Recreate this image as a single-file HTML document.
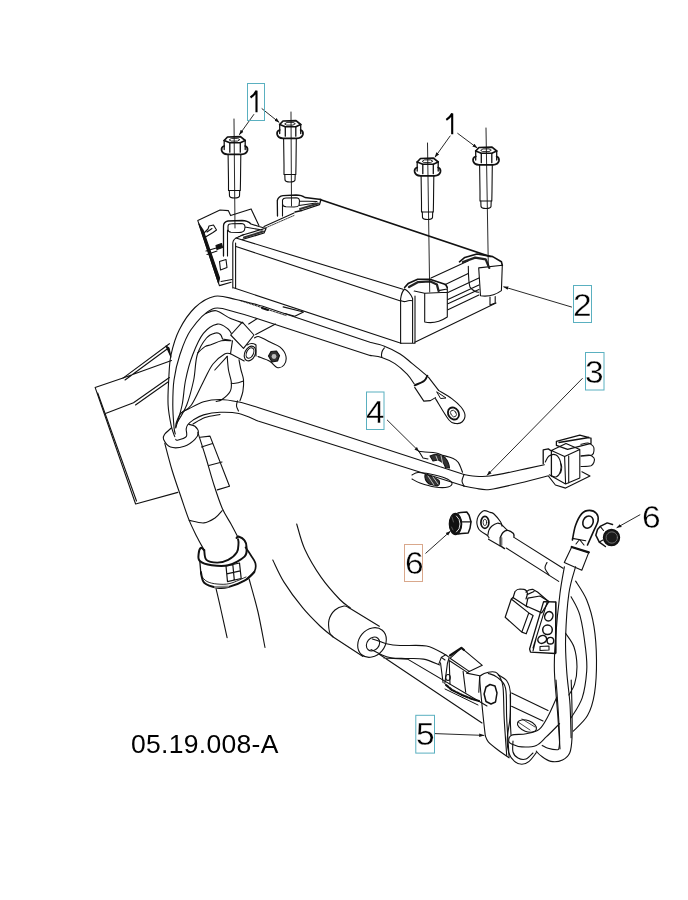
<!DOCTYPE html>
<html><head><meta charset="utf-8">
<style>
html,body{margin:0;padding:0;background:#fff;}
body{width:688px;height:900px;overflow:hidden;position:relative;}
svg{position:absolute;left:0;top:0;will-change:transform;}
text{font-family:"Liberation Sans",sans-serif;fill:#000;}
</style></head>
<body>
<svg width="688" height="900" viewBox="0 0 688 900">
<defs>
<g id="bolt">
  <path d="M-10.3,4 L-7,0.5 L6,0.2 L10.7,4" stroke-width="1.7"/>
  <path d="M-10.3,4 L-4.7,6.3 L5.8,6.3 L10.7,4" stroke-width="1.6"/>
  <path d="M-5,3.2 L-3,1.9 L3,1.9 L5.3,3.2 L3,4.6 L-3,4.6 Z" stroke-width="0.9"/>
  <path d="M-10.3,4 L-10.3,13 M-4.7,6.3 L-4.7,15.7 M5.8,6.3 L5.8,15.7 M10.7,4 L10.7,13" stroke-width="1.3"/>
  <path d="M-10.3,9.5 Q-13.5,10.5 -12.8,14 Q-12,17.5 -7,17.9 L7,17.9 Q12,17.5 12.9,14 Q13.5,10.5 10.7,9.5" stroke-width="1.8"/>
  <path d="M-6.4,18 L-6,44 L-6,54 M6.3,18 L6,44 L5.8,54 M-6,54 L5.8,54" stroke-width="1.1"/>
  <path d="M-5.2,54 L-5,59.5 Q-4.5,61.5 0,61.5 Q4.5,61.5 5,59.5 L5.2,54" stroke-width="1.1"/>
</g>
<marker id="arr" viewBox="0 0 10 10" refX="9" refY="5" markerWidth="5" markerHeight="5" orient="auto" markerUnits="userSpaceOnUse">
  <path d="M0,1.5 L10,5 L0,8.5 Z" fill="#111" stroke="none"/>
</marker>
</defs>
<g fill="none" stroke="#111" stroke-width="1.1" stroke-linejoin="round" stroke-linecap="round">

  <!-- bolts -->
  <use href="#bolt" x="234.5" y="136.5"/>
  <use href="#bolt" x="290" y="120.5"/>
  <use href="#bolt" x="427.5" y="158"/>
  <use href="#bolt" x="486" y="147"/>
  
  <!-- MODULE -->
  <path d="M238.9,236.7 L244,234.5 M264,226.5 L294,213"/>
  <path d="M263,229 L294,215.5" stroke-width="0.8" stroke-dasharray="1.5 1"/>
  <path d="M320,199.5 L490,256.5" stroke-width="1.7"/>
  <path d="M431,278 L468,261"/>
  <path d="M236,238 L403,289.3"/>
  <path d="M236,246.5 L400.6,301"/>
  <path d="M233.5,287.8 L401,343.3"/>
  <path d="M232.8,243 Q233,238.5 238.9,236.7 M232.8,243 L232.8,288 M235.6,243 L235.6,288"/>
  <path d="M400.6,343.3 L400.6,299 Q401.5,292 404.6,289 Q410,292 412.6,298.5 L412.6,342.5 M415,296 L415,342.3 M400.6,343.3 L415,343.3 M400.6,300.6 Q404,302.3 406.5,301.2 Q409,300.2 412.6,300.8"/>
  <path d="M414.8,342.3 L496,303"/>
  <path d="M404.6,287.5 L408.1,283.6 L417.7,279.2 L429.9,279.2 L445.6,284.5 L447.3,287.5" stroke-width="1.6"/>
  <path d="M414.2,291 L424.7,293.2 L447.3,292.3 M424.7,293.2 L424.7,322 Q436,324.5 447.3,317 L447.3,287.5 M438.6,290.6 L447,289" stroke-width="1.1"/>
  <path d="M409,287 L417.7,282.2 L429.9,281.3 L436.9,284.5 L438.6,291" stroke-width="2.3" stroke="#222"/>
  <path d="M444.8,284.8 L468.2,273.6 M447.9,292.5 L478.9,278 M447.9,299.6 L478.9,285 M447.9,303.7 L478.9,289.5 M447.9,309.8 L478.9,295"/>
  <path d="M459.5,261.8 L464.8,257.4 L477,254 L492.7,256.6 L501.4,261.8 L502.3,265.3" stroke-width="1.6"/>
  <path d="M478.7,267.9 L480.5,295.8 Q492,297.5 501.4,290.6 L502.3,265.3 M468.3,266.2 Q468.5,283 470,287.1 Q474,292 478.7,292.3 M478.7,267.9 L502.3,265.3 M490,297 L490,305 L495.2,303 L495.2,296.5" stroke-width="1.1"/>
  <path d="M463,262 L475.2,257.6 L485.7,259.4 L489.2,267.9" stroke-width="2.3" stroke="#222"/>
  
  <path d="M277.5,216 L277.3,200.5 C278,197.5 280,196 283,195.6 L296,195 C300,195 303,196 305,197.5 L321,199.5 L319.5,204.6 L302,210.5 L295,212" stroke-width="1.3"/>
  <path d="M282.5,200 C283,198.5 284,198 286,198 L296,197.8 C298.5,198 299.5,199.5 299.5,201 L299,205.5 C298,206.6 296,207 294,207 L286,206.8 C284,206.5 282.5,205.5 282.5,204 Z M282.5,204 L282.5,216 M299.5,201 L317,201.5 M299,205.5 L316,203" stroke-width="1.1"/>
  <path d="M300,209 L318,203.5" stroke-width="2" stroke="#333"/>
  <path d="M223.5,256 L223.5,226 C223.5,222.5 225.5,221.5 228,221 L242,220.5 C246,220.5 249,222 251,224 L259,226.5 L266,228.5 L264,233 L242.2,239.5" stroke-width="1.3"/>
  <path d="M228,226.5 C228,224.5 229.5,223.8 231.5,223.8 L241,223.5 C243.5,223.6 245,225 245,227 L244.5,230 C243.5,232 241,232.5 239,232.5 L231,232.3 C229,232 228,231 228,229.5 Z M227.5,230 L227.5,256 M245,227 L262,230 M241,235.5 L263,229" stroke-width="1.1"/>
  <path d="M244,237.5 L263,231.5" stroke-width="2" stroke="#333"/>
  <path d="M197.8,220.6 L220,210 L228.3,210.6 L230.6,215.6 L251.1,208.9 L258.9,225.6 M197.8,220.6 L219.4,285.6 L231.1,282.2 M221,281.5 L232,279.5"/>
  <path d="M199,224 L203,230 L219.5,278 L218.5,283 Z" fill="#111" stroke-width="1.2"/>
  <path d="M203,234 L208,229 L209,226 L213.5,225 L216.5,230 L213,232.5 L205.5,237 Z M207,232 L212,228.5 M219.5,261.5 L226,259.5 L227,267.5 L220.5,270 Z M206,251 L218,247.5 M207,254.5 L217,251"/>
  <path d="M216,245.5 L221.5,243.5 L222.5,247.5 L217,249.5 Z" fill="#111"/>
  <!-- centerlines -->
  <path d="M234,119 L235,228 M291,112 L291.5,206 M427.5,143 L429.7,292 M486,128 L488.3,265" stroke-width="0.9"/>
  <path d="M174.8,436.7 C174.2,434.9 172.4,431.5 171.3,426.2 C170.2,420.9 168.5,412.7 168.1,405 C167.7,397.3 168.2,388.3 168.7,380 C169.2,371.7 169.2,363.3 171,355 C172.8,346.7 175.2,337.9 179.2,330 C183.2,322.1 189.1,313.1 195,307.5 C200.9,301.9 208,297.5 214.8,296.2 C221.6,294.9 228.1,297.9 236,299.5 C243.9,301.1 257.7,304.9 262,306 M262,306 L370,342.3 M370,342.3 C372.4,342.9 379.4,344.2 384.4,346.2 C389.4,348.1 395.5,351.1 400.1,354 C404.8,356.9 407.8,360 412.3,363.6 C416.8,367.2 424.7,373.8 427.2,375.8"/>
  <path d="M175.3,434 C175.1,432.9 174.4,431.9 174,427.1 C173.6,422.3 172.8,412.9 172.8,405 C172.8,397.1 172.8,388.3 174,380 C175.2,371.7 177,363.3 179.8,355 C182.6,346.7 185.4,337.7 190.8,330 C196.2,322.3 205,311.9 212.4,308.9 C219.8,305.9 227.1,310.2 235,312 C242.9,313.8 255.8,318.2 260,319.5 M260,319.5 L370,355.4 M370,355.4 C372,355.8 377.7,356.1 381.8,357.5 C385.9,358.9 390.7,360.8 394.9,363.6 C399.1,366.4 403.9,370.8 407.1,374.1 C410.3,377.5 412.9,382.1 414.1,383.7"/>
  <path d="M384.4,347.9 Q380.5,352 381.8,357.5"/>
  <path d="M427.4,375.7 C426.8,376.6 426.1,379.4 424,381 C421.9,382.6 416.2,384.6 414.7,385.3" stroke-width="1.9"/>
  <path d="M428.4,377.2 L438.6,390.4 M414.7,387.4 L423.8,401.1 L430.4,400.6 L435.5,397.6"/>
  <path d="M438.6,390.4 C440.8,391.8 448.1,395.8 451.8,398.6 C455.5,401.4 458.8,404.3 461,407 C463.2,409.7 464.8,412.5 465,415 C465.2,417.5 463.5,420.6 462,422 C460.5,423.4 458.1,423.8 455.9,423.5 C453.7,423.2 452.4,424.1 449,420 C445.6,415.9 437.8,402.2 435.5,398.6"/>
  <path d="M437,392 L446,398 L441,398.5 Z" stroke-width="1"/>
  <ellipse cx="453.5" cy="413.5" rx="5.2" ry="6.3" transform="rotate(-35 453.5 413.5)" stroke-width="1.8"/>
  <ellipse cx="453.5" cy="413.5" rx="2.6" ry="3.6" transform="rotate(-35 453.5 413.5)" stroke-width="0.8"/>
  <path d="M171.3,428 C170.2,429.1 165.8,432.6 164.5,434.5 C163.2,436.4 162.5,437.2 163.5,439.3 C164.5,441.4 167,445.9 170.5,447.1 C174,448.3 180.3,447.6 184.4,446.3 C188.5,445 192.6,441.6 194.9,439.3 C197.2,437 198.4,434.5 198.4,432.3 C198.4,430.1 196.5,427.5 194.9,426.2 C193.3,424.9 189.8,424.7 188.8,424.4"/>
  <path d="M175.7,428 C176.8,424.2 180.4,413 182.1,405 C183.8,397 183.8,388.3 185.6,380 C187.3,371.7 189.6,362.8 192.6,355 C195.6,347.2 199.3,338.5 203.4,333.4 C207.5,328.2 213.2,324.9 217.3,324.1 C221.4,323.3 225.5,327.1 227.8,328.7 C230.1,330.3 230.7,332.7 231.3,333.5"/>
  <path d="M176.6,423.6 C178.3,420.5 183.8,412.3 186.7,405 C189.5,397.7 191.9,388.3 193.7,380 C195.4,371.7 195.1,362 197.2,355 C199.3,348 203.4,341.7 206.5,338 C209.6,334.3 213.5,333.6 215.8,333 C218.1,332.4 219.4,333.5 220.5,334.5 C221.6,335.5 222.2,338.2 222.5,339 L230.5,340.4"/>
  <path d="M197.5,353 C198.8,351.9 202.7,348 205,346.6 C207.3,345.2 208.8,345.6 211.5,344.6 C214.2,343.6 218.1,341.4 221.4,340.7 C224.7,340 229.6,340.7 231.2,340.7"/>
  <path d="M180.9,413.1 C182.7,411.8 187.5,410.5 191.4,405 C195.3,399.5 200.6,386.8 204.2,380 C207.8,373.2 209.6,368.3 213,364 C216.4,359.7 221.7,355.7 224.6,354 C227.5,352.3 229.5,353.8 230.5,353.8"/>
  <path d="M232.5,340.7 L230.5,353.8 L244.2,361 M214.8,370 L227.2,356.4"/>
  <path d="M175.7,427.1 C175.8,426.2 175.7,424.1 176.6,421.8 C177.5,419.5 178.9,415.3 180.9,413.1 C182.9,410.9 185,410.7 188.8,408.8 C192.6,406.9 198.4,403.4 203.6,401.8 C208.8,400.2 214.1,399.5 220,399.5 C225.9,399.5 232.5,400.7 238.8,402 C245.1,403.3 254.8,406.6 258,407.5 L464,474.5"/>
  <path d="M175.7,439.3 C176,439.4 175.7,440.6 177.4,440.2 C179.2,439.8 184.7,438.6 186.2,436.7 C187.7,434.8 185.9,430.8 186.2,428.8 C186.5,426.8 186.8,425.9 187.9,424.5 C189.1,423.1 190.5,421.7 193.1,420.1 C195.7,418.5 199.1,416.2 203.6,414.9 C208.1,413.6 214.1,412.5 220,412.3 C225.9,412.1 232.5,412.1 238.8,413.5 C245.1,414.9 254.8,419.8 258,421 L464,486.1"/>
  <path d="M193,424 C195,422.9 200.5,419.1 205,417.5 C209.5,415.9 217.5,415 220,414.5"/>
  <path d="M237.5,400.8 C237.3,401.7 236.3,404.3 236.5,406 C236.7,407.7 238.2,410.2 238.5,411"/>
  <path d="M227.2,356.4 C227.4,358.7 227.8,365.7 228.5,370 C229.2,374.3 231,378.5 231.3,382.1 C231.6,385.7 231.7,388.5 230.1,391.4 C228.5,394.3 224.3,397.8 222,399.5 C219.7,401.2 217.2,401.2 216.2,401.5"/>
  <path d="M239,359.7 C239.3,361.4 240.2,366.6 241,370 C241.8,373.4 243.2,376.2 243.5,379.8 C243.8,383.4 243.5,387.9 242.9,391.4 C242.3,394.9 240.5,399.1 240,400.7"/>
  <path d="M231.3,383.3 Q237,384 243.5,381"/>
  <path d="M230.7,335 L242.3,322.2 L254,335 L243.5,348.4 Z"/>
  <path d="M255.7,334.4 L275.5,324 M248.7,324 L256.9,318.7"/>
  <ellipse cx="250" cy="353.5" rx="5.2" ry="7.8" transform="rotate(25 250 353.5)"/>
  <ellipse cx="250" cy="353" rx="3.4" ry="5.6" transform="rotate(25 250 353)"/>
  <path d="M247,345 Q252,342 256,345 L256,356"/>
  <path d="M254.5,337.9 C255.3,337.7 256.6,336 259.2,336.7 C261.8,337.4 266.5,340.2 270,342 C273.5,343.8 277.5,344.9 280.1,347.2 C282.8,349.5 285.2,353 285.9,356 C286.5,359 285.5,363.1 284,365 C282.5,366.9 279.4,368.1 277,367.5 C274.6,366.9 272.9,363 269.7,361.2 C266.5,359.4 259.9,357.3 258,356.5"/>
  <path d="M268.5,356 L271,351.5 L276.5,351 L279.5,355.5 L277.5,361 L272,362 Z" fill="#333" stroke-width="1.2"/>
  <circle cx="274" cy="356.5" r="2.4" fill="#bbb" stroke="none"/>
  <path d="M169.4,343.7 L123,378.1 L95.1,387.4 L135.6,504 L177.8,492.4"/>
  <path d="M123,378.1 L171.5,360.6 M125,380 L168.5,348 M106.1,413.3 L133.5,402.8 L169.4,377.5 M135.5,405 L168,382 M97.7,393 L136.5,501"/>
  <path d="M166,346 L171,357 L169,348 Z" fill="#111"/>
  <path d="M164.8,443.4 C166,447.8 169.3,461.1 172,470 C174.7,478.9 178.1,488.6 181,497 C183.9,505.4 186.5,513.7 189.2,520.4 C191.9,527.1 194.6,532.1 197,537 C199.4,541.9 202.8,547.6 203.9,549.7"/>
  <path d="M197.8,432.4 C199.2,436.7 203.3,449.2 206,458 C208.7,466.8 211.3,476.6 214,485 C216.7,493.4 219.4,501.7 222.2,508.2 C225,514.7 228.3,519.1 231,524 C233.7,528.9 236.9,535.2 238.1,537.5"/>
  <path d="M189.2,520.4 C191.6,520.8 199.6,523.3 203.9,522.9 C208.2,522.5 211.9,520 215,518 C218.1,516 221,511.8 222.2,510.6"/>
  <path d="M200.2,437.3 L210,436.1 L229.5,486.2 L217.3,489.9 M201.5,447 L212.5,443.5 M208.8,465.5 L222,462"/>
  <path d="M204.2,550.1 C203.6,549.7 201.8,547.4 200.9,547.9 C200,548.4 198.9,551.1 198.7,553.3 C198.5,555.5 197.6,559 199.8,561 C202,563 207.1,564.6 211.8,565.3 C216.5,566 222.8,566.8 228.2,565.3 C233.6,563.8 241.4,559.6 244.5,556.6 C247.6,553.6 246.5,549.7 246.5,547 C246.5,544.3 245.8,542 244.5,540.3 C243.2,538.5 239.8,536.9 238.5,536.5 C237.2,536.1 236.8,537.8 236.5,538" stroke-width="2"/>
  <path d="M204.2,550.1 C204.6,551.7 204.2,557.8 206.4,559.9 C208.6,562 213.7,562.6 217.3,562.6 C220.9,562.6 224.9,561.6 228.2,559.9 C231.5,558.2 235.2,555 236.9,552.3 C238.6,549.6 238.3,545.7 238.5,543.5 C238.7,541.3 238.1,539.9 238,539.2" stroke-width="1.9"/>
  <path d="M199.8,561 L200.9,574" stroke-width="1.3"/>
  <path d="M245.6,547.5 C246.5,548.8 249.4,552.9 251,555.5 C252.6,558.1 254.8,560.5 255.4,563.2 C256,565.9 255.8,569.2 254.3,571.9 C252.9,574.6 248,578.2 246.7,579.5" stroke-width="1.7"/>
  <path d="M200.9,571.9 C201.4,573.7 201.5,580.2 204.2,582.8 C206.9,585.4 213.3,587 217.3,587.7 C221.3,588.4 223.7,588.3 228.2,587.1 C232.7,585.9 240.2,583.1 244.5,580.6 C248.8,578.1 252.7,573.4 254.3,571.9" stroke-width="2"/>
  <path d="M201.5,576 C202.4,576.9 204.4,580.2 207,581.5 C209.6,582.8 213.2,583.7 217,584 C220.8,584.3 225.2,584.7 230,583.5 C234.8,582.3 243.3,578.1 246,577" stroke-width="0.9"/>
  <path d="M215,587 L228,586.5" stroke="#888" stroke-width="2"/>
  <path d="M226,566 L239.5,563 L241.2,578.5 L227.5,581.7 Z M232.8,564.5 L234.3,580 M226.8,573.8 L240.3,570.8" stroke-width="1.2"/>
  <path d="M216.1,588.8 C216.9,592.3 219.2,601.9 221,610 C222.8,618.1 226.1,633.1 227.1,637.7"/>
  <path d="M249.1,579 C250.6,584.5 255.3,600.6 258,612 C260.6,623.4 263.8,641.6 265,647.5"/>
  <path d="M464,474.5 C465.4,474.8 468.4,475.8 472.7,476 C477,476.2 482.1,477 490,476 C497.9,475 510.9,471.9 520,470 C529.1,468.1 540.3,465.7 544.4,464.8"/>
  <path d="M464,486.1 C465.9,486.5 471.3,487.7 475.6,488.3 C479.9,488.9 482.6,490.4 490,489.5 C497.4,488.6 510.4,485.2 520,483 C529.6,480.8 543,477.2 547.6,476"/>
  <path d="M464,474.5 C463.7,475.6 462,479.1 462,481 C462,482.9 463.7,485.2 464,486.1"/>
  <path d="M418.9,451.3 C419.9,451.4 422.1,451.7 425,452 C427.9,452.3 432.9,452.4 436,453 C439.1,453.6 440.9,454.8 443.6,455.6 C446.3,456.4 449.6,456.9 452,458 C454.4,459.1 456.4,459.8 458.1,462.2 C459.9,464.6 461.8,470.6 462.5,472.3"/>
  <path d="M430,456 Q438,452.5 445,457.5 Q449,462 449.5,468 L445.5,467.5 Q444,462 438,460 L433,461 Z" fill="#333"/>
  <path d="M436,456 L440,466 M441,455.5 L443,465" stroke="#fff" stroke-width="0.7"/>
  <path d="M412,475 C413,474.6 415,472.7 418,472.5 C421,472.3 425.5,473.1 430,474 C434.5,474.9 441.3,476.5 445,478 C448.7,479.5 451.5,481.5 452,483 C452.5,484.5 450.8,486.3 448,487 C445.2,487.7 439.7,487.7 435,487 C430.3,486.3 423.8,484.3 420,483 C416.2,481.7 413.3,479.7 412,479"/>
  <path d="M425,474.5 Q433,476 439,480.5 Q441,484.5 437,486 L429,484 Q424,480 425,474.5 Z" fill="#333"/>
  <path d="M428,476 L434,485 M433,477 L438,484" stroke="#fff" stroke-width="0.7"/>
  <path d="M418.9,451.3 L423,458 L428,459"/>
  <path d="M543.2,463.7 L543.2,449.9 L548.3,448.9 L551.4,451 L551.4,475.9" stroke-width="1.3"/>
  <path d="M545.3,462 C545.9,461 547.2,457.2 549,456 C550.8,454.8 554.1,454 556,455 C557.9,456 559.8,459.3 560.5,462 C561.2,464.7 561.2,468.5 560.5,471 C559.8,473.5 557.9,476.3 556,476.9 C554.1,477.5 550.4,475.1 549.3,474.8"/>
  <path d="M560.5,463 Q563,467 560.5,473"/>
  <path d="M551.4,450.4 L564.6,456.5 L565.6,484 L551.4,476 M564.6,456.5 L579.8,449.4 L579.8,477.9 L565.6,484 M551.4,450.4 L566,443.5 L579.8,449.4 M568.7,456 L568.7,483"/>
  <path d="M556.4,445.3 L556.4,441.3 L579.8,435.2 L591,438.2 L591,443.3 L567.6,449.4 Z M559,442.5 L589,437.5" stroke-width="1.3"/>
  <path d="M580.9,444.3 C582.1,444.1 586,442.7 588,443 C590,443.3 592,444.8 593,446 C594,447.2 594.2,448.5 594,450 C593.8,451.5 594.2,454 592,455 C589.8,456 582.8,455.8 581,456"/>
  <path d="M581,456 C582.3,455.8 586.8,454.7 589,455 C591.2,455.3 593.2,456.8 594,458 C594.8,459.2 594.5,460.7 594,462 C593.5,463.3 593.2,464.9 591,465.7 C588.8,466.4 582.7,466.4 581,466.5"/>
  <path d="M548.3,475.9 L555.4,485 L565.6,488.1 L590,475.9 L581.9,471.8"/>
  <path d="M458,513 L460.7,512.5 L466.8,512 L469.1,515.3 L471,521.8 L470,528.3 L468.2,533 L461.7,533.6 L458,534" stroke-width="1.5"/>
  <path d="M462.1,521.8 L471,521.8" stroke-width="1.3"/>
  <ellipse cx="455.5" cy="524" rx="6.2" ry="10.6" fill="#111" stroke-width="1.2"/>
  <path d="M456.5,516 Q460,519 460,524 Q460,529.5 456.5,532" stroke="#ddd" stroke-width="1"/>
  <path d="M452,517 L453.5,522 M451.5,527 L453,530" stroke="#666" stroke-width="0.8"/>
  <path d="M502,526.2 C501.8,525.5 501.8,523.8 500.5,521.8 C499.2,519.8 495.7,515.6 494,514 C492.3,512.4 492.1,512.9 490.3,512.4 C488.5,511.9 485.3,509.8 483.1,510.9 C480.9,512 478,515.9 477.3,518.9 C476.6,521.9 477,526.2 478.7,529 C480.4,531.8 485.7,534.1 487.4,535.6 C489.1,537.1 488.7,537.4 489,537.8"/>
  <ellipse cx="484.9" cy="522.4" rx="4" ry="6" stroke-width="1.7"/>
  <ellipse cx="484.9" cy="522.4" rx="1.8" ry="3.2" stroke-width="0.8"/>
  <path d="M487.8,535.5 C488,534.6 488.3,531.6 489,530 C489.7,528.4 490.6,527.1 492,526 C493.4,524.9 495.8,523.6 497.3,523.2 C498.8,522.9 500.3,523.8 500.9,523.9 M500.9,523.9 L507.4,530.4 M488.5,539.2 L500.2,546"/>
  <path d="M500.2,537.7 C500.7,536.8 501.8,533.7 503,532.5 C504.2,531.3 505.7,530.3 507.4,530.4 C509.1,530.5 512.1,532.3 513.2,533.3 C514.3,534.3 513.9,535.7 514,536.2 M500.2,537.7 L500.2,545.7 L504.5,548.6" stroke-width="1.4"/>
  <path d="M501.5,538 L501.5,545" stroke="#777" stroke-width="1.8"/>
  <path d="M513.6,537.1 L563,568.3 M506.3,548 L558.7,581.4"/>
  <path d="M547,562.5 C546.7,563.4 544.7,565.9 545,568 C545.3,570.1 548.3,573.8 549,575"/>
  <path d="M572.4,540 C572.9,537.5 574,529.6 575.6,525.2 C577.2,520.8 579.5,516.1 581.8,513.6 C584.1,511.1 587,510.4 589.5,510.4 C592,510.4 595.1,511.9 596.5,513.6 C597.9,515.3 598.5,517.9 598.1,520.6 C597.7,523.3 596,525.8 594.2,529.9 C592.4,534 588.6,542.5 587.5,545" stroke-width="1.6"/>
  <ellipse cx="588" cy="522.1" rx="5" ry="6.3" transform="rotate(25 588 522.1)" stroke-width="1.6"/>
  <path d="M572.4,538.4 L585.7,540.8 M576,544 L579.5,539.5 L584,545"/>
  <path d="M571.7,547 L588.8,552.4 L581.8,570.3 L564.3,562.5 Z"/>
  <path d="M571.7,547 L588.8,552.4" stroke-width="2.2"/>
  <path d="M605.4,546.5 L599.3,542.1 L595.8,535.2 L597.5,529.5 L600.2,526.4 L607.2,522.9 L612.5,524.5" stroke-width="1.5"/>
  <path d="M600.2,526.4 L603.5,530.5 M599.3,542.1 L603,540" stroke-width="1.1"/>
  <circle cx="611.5" cy="537.5" r="8" fill="#1a1a1a" stroke-width="1.4"/>
  <circle cx="611.8" cy="537.5" r="5.6" fill="none" stroke="#8a8a8a" stroke-width="0.8" stroke-dasharray="1.2 1"/>
  <path d="M253.8,114.5 L239.5,134.5" stroke-width="0.9" marker-end="url(#arr)"/>
  <path d="M262,108.7 L279,122.3" stroke-width="0.9" marker-end="url(#arr)"/>
  <path d="M450.1,136 L435.1,157" stroke-width="0.9" marker-end="url(#arr)"/>
  <path d="M457.7,133.4 L477,147.8" stroke-width="0.9" marker-end="url(#arr)"/>
  <path d="M571.5,307 L503.8,286.8" stroke-width="0.9" marker-end="url(#arr)"/>
  <path d="M434.9,733.6 L483.7,735.4" stroke-width="0.9" marker-end="url(#arr)"/>
  <path d="M639.9,514.8 L617,527.6" stroke-width="0.9" marker-end="url(#arr)"/>
  <path d="M425.8,553.2 L450.2,531.4" stroke-width="0.9" marker-end="url(#arr)"/>
  <path d="M387.3,420.1 L418.9,451.3" stroke-width="0.9" marker-end="url(#arr)"/>
  <path d="M582.3,378.5 L487.2,475.2" stroke-width="0.9" marker-end="url(#arr)"/>
  <path d="M240,300.5 L286,315.5" stroke-width="0.9" stroke-dasharray="2 1.2"/>
  <path d="M262,308 L268,310" stroke-width="2"/>
  <path d="M283.1,306.9 L303.5,312 L294.8,316.3 L285,313.5"/>
  <path d="M296.7,524 C298.1,528.2 300.8,540.6 304.9,549.5 C309,558.4 315.4,569.1 321.2,577.4 C327,585.7 335,594.5 339.8,599.5 C344.6,604.5 348.5,606.3 350.2,607.7"/>
  <path d="M272.8,560 C274.7,563.7 279,574.1 284,582.1 C289,590.1 296.6,600.4 302.6,607.7 C308.6,615 315,621.2 320,626 C325,630.8 330.7,634.9 332.8,636.7"/>
  <path d="M349,607.7 C348.2,607.4 346.3,605.6 344,606 C341.7,606.4 337.5,607.7 335,610 C332.5,612.3 329.9,616.3 329,620 C328.1,623.7 328.9,629.2 329.5,632 C330.1,634.8 332.2,635.9 332.8,636.7"/>
  <path d="M349,607.7 L379.3,626.3 M332.8,636.7 L363,656.5"/>
  <ellipse cx="372" cy="642.5" rx="13" ry="16" transform="rotate(40 372 642.5)"/>
  <ellipse cx="373" cy="644" rx="6" ry="7.5" transform="rotate(40 373 644)"/>
  <path d="M372.3,639 C373.6,639.4 377.7,640.7 380,641.5 C382.3,642.3 383,643 386.3,643.7 C389.6,644.4 393.3,645.1 400,645.5 C406.7,645.9 418.9,644.5 426.5,646 C434.1,647.5 442.2,653.2 445.4,654.7"/>
  <path d="M371,649.5 C372.8,650.4 378.7,653.6 382,655 C385.3,656.4 387.2,657.1 391,657.7 C394.8,658.3 399.6,658.3 405,658.5 C410.4,658.7 417.8,658 423.6,659.1 C429.4,660.2 436.9,663.9 439.6,664.9"/>
  <path d="M379.3,654.2 L482,723 M384,658 L407.6,659.1 M407.6,659.1 L487,706"/>
  <path d="M438.7,664.4 L441.3,657.4 L445.7,654.8 L449.2,657.4 L447.4,663.5 L444.8,683.6 M440.5,662.7 L443.1,682.7 M441.3,657.4 L445,660"/>
  <path d="M461.4,647.8 L482.3,665.3 L469.2,671.4 L450,658.3 Z"/>
  <path d="M450,655.5 L461.4,647.8 L464,650" stroke-width="2.2"/>
  <path d="M450,661 L468.4,673.1 M463.1,671.4 L465.7,692.3 M466.6,673.1 L479.7,675.7 L478.8,692.3 M469.2,671.4 L466.6,673.1 M449.2,660 L450,684"/>
  <ellipse cx="448" cy="677.5" rx="2.3" ry="3"/>
  <path d="M446,685 L452,690 L462,695 L472,699 L479,701" stroke-width="2.2" stroke-dasharray="3 1.5"/>
  <path d="M445,689 L478,705" stroke-width="1"/>
  <path d="M485.3,735.8 C484.8,731.5 483.4,719.3 482.5,710 C481.6,700.7 480,685.8 479.8,680 C479.6,674.2 480.1,676.3 481.5,675 C482.9,673.7 485.9,672.7 488.3,672.2 C490.7,671.7 493.9,671.6 495.7,672.2 C497.5,672.8 498.1,673.5 499.3,675.9 C500.5,678.3 502.2,679.8 503,686.9 C503.8,694 503.6,707.3 504.2,718.7 C504.8,730.1 506.3,749.3 506.7,755.4"/>
  <path d="M485.3,735.8 C485.8,736.8 486.2,739.5 488.3,741.9 C490.4,744.3 494.5,747.4 498,750 C501.5,752.6 507.2,756.5 509.1,757.8"/>
  <path d="M488.3,673.4 C489.7,674 494,674.6 496.9,677.1 C499.8,679.6 503.9,681.2 505.5,688.1 C507.1,695 506.1,707.3 506.7,718.7 C507.3,730.1 508.7,750.3 509.1,756.6"/>
  <path d="M498.1,674.7 C499.5,675.7 504.7,677.9 506.7,680.8 C508.7,683.6 509.7,685.5 510.3,691.8 C510.9,698.1 510.2,711.5 510.3,718.7 C510.4,725.9 510.9,732.3 511,735"/>
  <path d="M486,687 L490,684.5 L495,686 L497,693 L495.5,702 L491,704 L486,701.5 L484.1,694 Z" stroke-width="1.5"/>
  <path d="M510.2,694.5 C510.2,698.1 510.7,709 510.2,716.3 C509.7,723.6 507.6,732 507.3,738.1 C507.1,744.2 507.5,748.8 508.7,752.7 C509.9,756.6 512.3,759.5 514.5,761.4 C516.7,763.3 519.4,764.3 521.8,764.3 C524.2,764.3 526.7,763.3 529.1,761.4 C531.5,759.5 535.1,754.2 536.3,752.7"/>
  <path d="M513,741 C513,742.8 512.2,749.2 513,752 C513.8,754.8 515.8,756.8 518,758 C520.2,759.2 523.5,759.8 526,759 C528.5,758.2 531.8,754 533,753"/>
  <path d="M556.7,697.4 C555.2,700.5 550.9,711 548,716.3 C545.1,721.6 542.8,726.5 539.2,729.4 C535.6,732.3 530.8,732.8 526.2,733.8 C521.6,734.8 514.5,734 511.6,735.2 C508.7,736.4 508.7,739.5 508.7,741 C508.7,742.5 509.4,743 511.6,744 C513.8,745 517.7,746.7 521.8,746.9 C525.9,747.1 532.2,747.1 536.3,745.4 C540.4,743.7 542.6,740.3 546.5,736.7 C550.4,733.1 557.4,725.8 559.6,723.6"/>
  <path d="M536.3,751.2 C537,751.9 538.3,753.9 540.7,755.6 C543.1,757.3 547.3,760.7 550.9,761.4 C554.5,762.1 559.4,761.5 562.5,760 C565.6,758.5 568.2,756.4 569.8,752.7 C571.4,749.1 571.6,745.4 572,738.1 C572.4,730.8 572.1,718.7 572,709 C571.9,699.3 571.3,684.8 571.2,680"/>
  <path d="M542.2,745.4 C543.2,745.9 545.6,747.6 548,748.3 C550.4,749 554.9,749.8 556.7,749.8 C558.5,749.8 558.4,750.2 558.9,748.3 C559.4,746.3 559.7,744.6 559.6,738.1 C559.5,731.6 558.7,718.7 558.1,709 C557.5,699.3 556.4,684.8 556,680"/>
  <path d="M511.6,693.1 L548,710.5 M511.6,706.2 L543,721"/>
  <ellipse cx="527" cy="726" rx="10" ry="5.5" transform="rotate(20 527 726)"/>
  <path d="M518,722 L530,730 M522,719 L535,727" stroke-width="0.8"/>
  <path d="M564.4,566.7 C563.7,571.1 561.5,581.4 560,593.3 C558.5,605.1 556.5,624.8 555.6,637.8 C554.7,650.8 554,658.1 554.4,671.1 C554.8,684.1 556.9,702.6 557.8,715.6 C558.7,728.6 559.6,743.4 560,748.9"/>
  <path d="M575.6,566.7 C574.5,571.1 570.6,581.4 568.9,593.3 C567.2,605.1 566,624.8 565.6,637.8 C565.2,650.8 566,660 566.7,671.1 C567.4,682.2 569.3,693.3 570,704.4 C570.7,715.5 570.9,732.2 571.1,737.8"/>
  <path d="M575.6,581.1 C577.5,584.2 583.6,592.4 586.7,600 C589.8,607.6 592.4,616.7 594,626.7 C595.6,636.7 596.4,648.9 596.5,660 C596.6,671.1 596,684 594.5,693.3 C593,702.6 591,709.3 587.5,715.6 C584,721.9 575.7,728.5 573.3,731.1"/>
  <path d="M571.1,596.7 C572.6,599.9 577.6,606.9 580,615.6 C582.4,624.3 584.5,639.6 585.6,648.9 C586.7,658.1 587.3,663 586.7,671.1 C586.1,679.2 584.8,690 582.2,697.8 C579.6,705.6 573,714.5 571.1,717.8"/>
  <path d="M565.6,633.3 C567,635.6 572.1,641.4 574,647 C575.9,652.6 576.9,660.5 577,666.7 C577.1,672.9 575.9,679.7 574.5,684.4 C573.1,689.1 569.8,693.2 568.9,695"/>
  <path d="M505.2,617.3 L511.3,599 L528.8,612.9 L521.8,632.1 Z M528.8,612.9 L533.1,615.5 L526.2,633.8 L521.8,632.1 M511.3,599 L513,597.5 L527.5,607" stroke-width="1.2"/>
  <path d="M513,598 L515,591.5 Q517,589 520,589 L524,589.3 Q527,590 527.5,594 L526,599 M526,592 Q529,589 533,589.4 L537.5,592 L548.8,601.6 M527,594.6 L534,591.5" stroke-width="1.2"/>
  <path d="M527.9,598.1 L540,596 L548.8,601.6 L541.8,612.9 L526.2,606 Z" stroke-width="1.2"/>
  <path d="M543.6,601.6 L555.8,602 L555.5,653.5 L530.5,652.1 L529.6,649 L543.6,601.6 Z" stroke-width="1.3"/>
  <path d="M547.1,602.4 L533,648 M536.6,636.4 L533,651 M555.8,602 L556,653" stroke-width="1.1"/>
  <ellipse cx="548.8" cy="616.3" rx="4" ry="4.8" transform="rotate(25 548.8 616.3)" stroke-width="1.5"/>
  <ellipse cx="547.5" cy="629.8" rx="4.8" ry="4.8" stroke-width="1.5"/>
  <ellipse cx="542.2" cy="639.4" rx="4.5" ry="3.8" transform="rotate(-30 542.2 639.4)" stroke-width="1.5"/>
  <ellipse cx="550.4" cy="640.7" rx="3.3" ry="3.3" stroke-width="1.4"/>
  <path d="M540,646.5 L549,646 L549,650 L540,650.5 Z" stroke-width="1.1"/>
  <path d="M205.7,313.6 C207.4,313.1 212.1,309.9 216.2,310.7 C220.3,311.5 225.6,316.3 230.1,318.3 C234.6,320.3 240.8,322.1 242.9,322.9"/>
</g>
<!-- label boxes -->
<g fill="none" stroke-width="1">
  <rect x="247.5" y="83.5" width="17" height="37" stroke="#5ab0c0"/>
  <rect x="573.5" y="285.5" width="18" height="37" stroke="#5ab0c0"/>
  <rect x="585.5" y="352.5" width="18.5" height="37.5" stroke="#5ab0c0"/>
  <rect x="366.5" y="392" width="17.5" height="37.5" stroke="#5ab0c0"/>
  <rect x="404.5" y="544.5" width="18" height="37" stroke="#d9a88c"/>
  <rect x="415.8" y="715.3" width="18.7" height="37.8" stroke="#5ab0c0"/>
</g>
<g font-size="31" stroke="#fff" stroke-width="0.35">
  <path d="M250.5,97.5 Q254.5,95 256.5,90.8 L256.5,112.2" fill="none" stroke="#000" stroke-width="2.1" stroke-linecap="butt" stroke-linejoin="miter"/>
  <path d="M446.3,119.8 Q450,117.5 452.2,113.4 L452.2,134.3" fill="none" stroke="#000" stroke-width="2.1" stroke-linecap="butt" stroke-linejoin="miter"/>
  <text transform="translate(573,315.7) scale(1.08,1)">2</text>
  <text transform="translate(585,382.5) scale(1.08,1)">3</text>
  <text transform="translate(366,423.2) scale(1.08,1)">4</text>
  <text transform="translate(416,745.4) scale(1.08,1)">5</text>
  <text transform="translate(405,574.3) scale(1.08,1)">6</text>
  <text transform="translate(642,528) scale(1.08,1)">6</text>
  <text transform="translate(131,752.6)" font-size="26.5" stroke-width="0" letter-spacing="0.3">05.19.008-A</text>
</g>
</svg>
</body></html>
